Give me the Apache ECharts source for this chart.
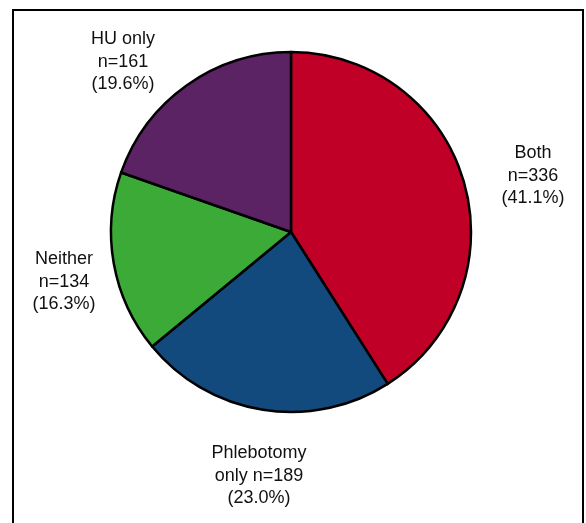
<!DOCTYPE html>
<html>
<head>
<meta charset="utf-8">
<script src="https://cdn.jsdelivr.net/npm/echarts@6/dist/echarts.min.js"></script>
<style>
  html, body { margin: 0; padding: 0; background: #fff; }
  #chart { width: 586px; height: 523px; }
</style>
</head>
<body>
<div id="chart"></div>
<script>
// Treatment groups, in clockwise order from 12 o'clock
const categories = ['Both', 'Phlebotomy only', 'Neither', 'HU only'];
const counts = [336, 189, 134, 161];
const percents = ['41.1%', '23.0%', '16.3%', '19.6%'];
const labelLines = [
  ['Both', 'n=336', '(41.1%)'],
  ['Phlebotomy', 'only n=189', '(23.0%)'],
  ['Neither', 'n=134', '(16.3%)'],
  ['HU only', 'n=161', '(19.6%)']
];

// Styling and layout
const colors = ['#C00026', '#124A7D', '#3BAA36', '#5B2264'];
const center = [291, 232];
const radius = 180;
// centre of each three-line label block
const labelPos = [[533, 176], [259, 476], [64, 282], [123, 62]];

const chart = echarts.init(document.getElementById('chart'), null, { renderer: 'canvas' });
chart.setOption({
  animation: false,
  backgroundColor: '#fff',
  graphic: [{
    type: 'rect',
    shape: { x: 13, y: 10, width: 570, height: 530 },
    style: { fill: 'none', stroke: '#000', lineWidth: 2 },
    silent: true
  }],
  series: [{
    type: 'pie',
    center: center,
    radius: [0, radius],
    startAngle: 90,
    clockwise: true,
    avoidLabelOverlap: false,
    data: categories.map((c, i) => ({
      name: c,
      value: counts[i],
      itemStyle: { color: colors[i] }
    })),
    itemStyle: { borderColor: '#000', borderWidth: 2.5 },
    label: {
      show: true,
      position: 'outside',
      formatter: p => labelLines[p.dataIndex].join('\n'),
      fontFamily: 'Liberation Sans, Arial, sans-serif',
      fontSize: 18,
      lineHeight: 22.5,
      color: '#111',
      align: 'center',
      verticalAlign: 'middle',
      overflow: 'none'
    },
    labelLine: { show: false },
    labelLayout: p => ({
      x: labelPos[p.dataIndex][0],
      y: labelPos[p.dataIndex][1],
      align: 'center',
      verticalAlign: 'middle'
    }),
    emphasis: { disabled: true }
  }]
});
</script>
</body>
</html>
